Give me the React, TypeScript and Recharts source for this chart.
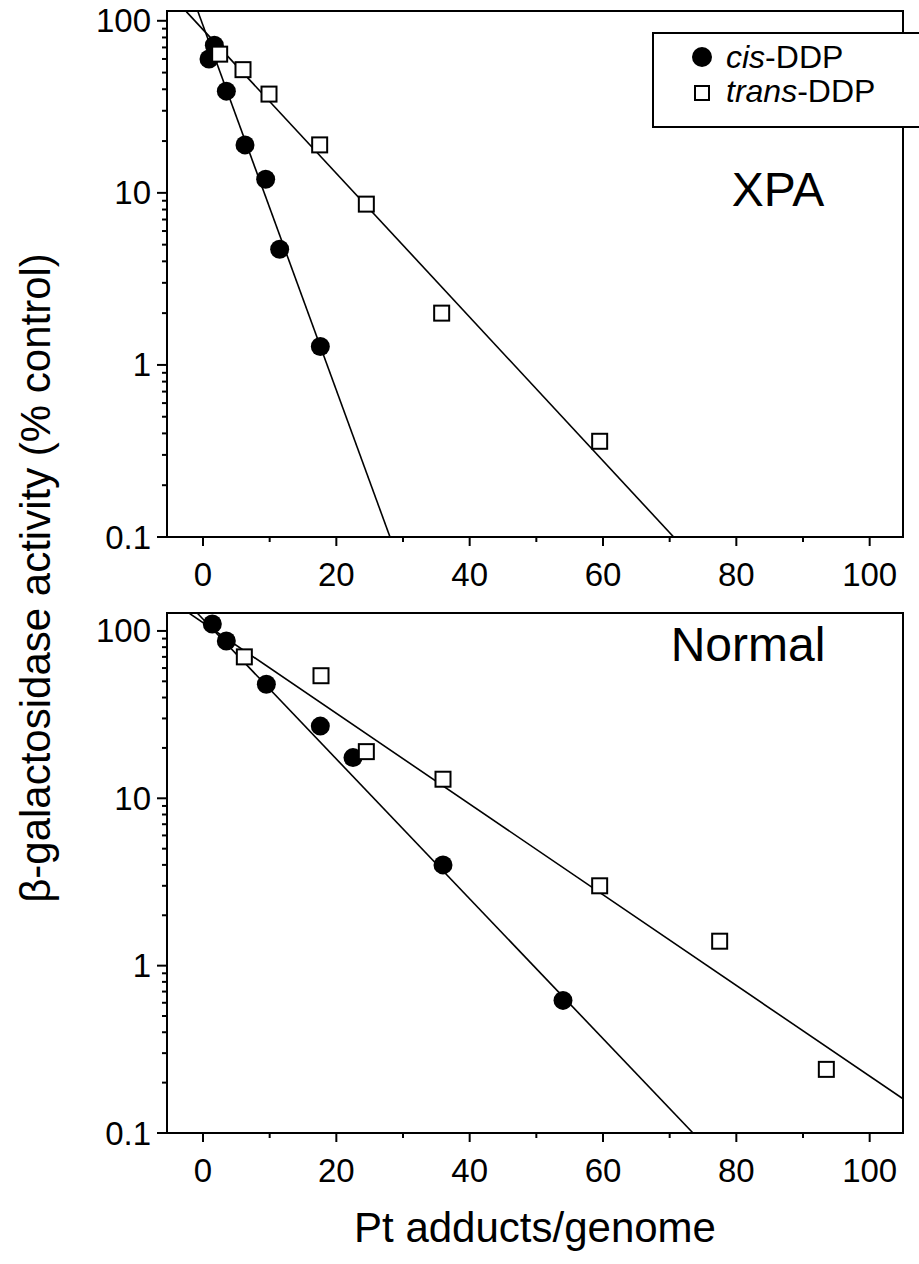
import React from "react";
import { ComposedChart, Scatter, Line, XAxis, YAxis, ReferenceArea } from "recharts";

const FONT = "'Liberation Sans', Arial, Helvetica, sans-serif";

// x axis: Pt adducts/genome
const xTicks = [0, 10, 20, 30, 40, 50, 60, 70, 80, 90, 100];
const xDomain = [-5.4, 105];

// log y axis ticks (% control)
const yTicks = [
  0.1, 0.2, 0.3, 0.4, 0.5, 0.6, 0.7, 0.8, 0.9,
  1, 2, 3, 4, 5, 6, 7, 8, 9,
  10, 20, 30, 40, 50, 60, 70, 80, 90, 100,
];

// XPA panel
const xpaCis = [
  { x: 0.9, y: 60 },
  { x: 1.7, y: 72 },
  { x: 3.5, y: 39 },
  { x: 6.3, y: 19 },
  { x: 9.4, y: 12 },
  { x: 11.5, y: 4.7 },
  { x: 17.6, y: 1.28 },
];
const xpaTrans = [
  { x: 2.5, y: 64 },
  { x: 6.0, y: 52 },
  { x: 9.9, y: 37.5 },
  { x: 17.5, y: 19 },
  { x: 24.5, y: 8.6 },
  { x: 35.8, y: 2.0 },
  { x: 59.5, y: 0.36 },
];
const xpaCisFit = [
  { x: -0.75, y: 113 },
  { x: 28.05, y: 0.1 },
];
const xpaTransFit = [
  { x: -2.5, y: 113 },
  { x: 70.6, y: 0.1 },
];

// Normal panel
const normCis = [
  { x: 1.4, y: 110 },
  { x: 3.5, y: 87 },
  { x: 9.5, y: 48 },
  { x: 17.6, y: 27 },
  { x: 22.5, y: 17.5 },
  { x: 36, y: 4.0 },
  { x: 54, y: 0.62 },
];
const normTrans = [
  { x: 6.2, y: 70 },
  { x: 17.7, y: 54 },
  { x: 24.5, y: 19 },
  { x: 36, y: 13 },
  { x: 59.5, y: 3.0 },
  { x: 77.5, y: 1.4 },
  { x: 93.5, y: 0.24 },
];
const normCisFit = [
  { x: -0.8, y: 127 },
  { x: 73.5, y: 0.1 },
];
const normTransFit = [
  { x: -2.0, y: 127 },
  { x: 105, y: 0.16 },
];

const isMajor = (v: number) => Math.abs(Math.log10(v) - Math.round(Math.log10(v))) < 1e-6;

const YTick = (props: any) => {
  const { x, y, payload } = props;
  const major = isMajor(payload.value);
  return (
    <g>
      <line x1={x} x2={x - (major ? 10 : 5)} y1={y} y2={y} stroke="#000" strokeWidth={2} />
      {major && (
        <text x={x - 16} y={y} textAnchor="end" dominantBaseline="central" fontSize={33} fontFamily={FONT} fill="#000">
          {payload.value}
        </text>
      )}
    </g>
  );
};

const XTick = (props: any) => {
  const { x, y, payload } = props;
  const major = payload.value % 20 === 0;
  return (
    <g>
      <line x1={x} x2={x} y1={y} y2={y + (major ? 9 : 5)} stroke="#000" strokeWidth={2} />
      {major && (
        <text x={x} y={y + 37} textAnchor="middle" dominantBaseline="central" fontSize={33} fontFamily={FONT} fill="#000">
          {payload.value}
        </text>
      )}
    </g>
  );
};

const Dot = (props: any) => <circle cx={props.cx} cy={props.cy} r={9.5} fill="#000" />;
const Box = (props: any) => (
  <rect x={props.cx - 7.5} y={props.cy - 7.5} width={15} height={15} fill="#fff" stroke="#000" strokeWidth={2} />
);

interface PanelProps {
  top: number;
  yMax: number;
  marginTop: number;
  marginBottom: number;
  cis: { x: number; y: number }[];
  trans: { x: number; y: number }[];
  cisFit: { x: number; y: number }[];
  transFit: { x: number; y: number }[];
}

const Panel = ({ top, yMax, marginTop, marginBottom, cis, trans, cisFit, transFit }: PanelProps) => (
  <div style={{ position: "absolute", left: 0, top }}>
    <ComposedChart width={919} height={600} margin={{ top: marginTop, right: 16, left: 107, bottom: marginBottom }}>
      <XAxis
        type="number"
        dataKey="x"
        domain={xDomain}
        ticks={xTicks}
        allowDataOverflow
        height={40}
        tickSize={0}
        tickMargin={0}
        tick={<XTick />}
        axisLine={{ stroke: "#000", strokeWidth: 2 }}
        interval={0}
      />
      <YAxis
        type="number"
        dataKey="y"
        scale="log"
        domain={[0.1, yMax]}
        ticks={yTicks}
        allowDataOverflow
        width={60}
        tickSize={0}
        tickMargin={0}
        tick={<YTick />}
        axisLine={{ stroke: "#000", strokeWidth: 2 }}
        interval={0}
      />
      <ReferenceArea x1={xDomain[0]} x2={xDomain[1]} y1={0.1} y2={yMax} fill="none" stroke="#000" strokeWidth={2} />
      <Line data={cisFit} dataKey="y" type="linear" stroke="#000" strokeWidth={1.6} dot={false} isAnimationActive={false} />
      <Line data={transFit} dataKey="y" type="linear" stroke="#000" strokeWidth={1.6} dot={false} isAnimationActive={false} />
      <Scatter data={cis} dataKey="y" shape={<Dot />} isAnimationActive={false} />
      <Scatter data={trans} dataKey="y" shape={<Box />} isAnimationActive={false} />
    </ComposedChart>
  </div>
);

const text = (extra: React.CSSProperties): React.CSSProperties => ({
  position: "absolute",
  fontFamily: FONT,
  color: "#000",
  whiteSpace: "nowrap",
  lineHeight: 1,
  ...extra,
});

export default function App() {
  return (
    <div style={{ position: "absolute", left: 0, top: 0, width: 919, height: 1264, background: "#fff", overflow: "hidden" }}>
      <Panel top={0} yMax={114} marginTop={11} marginBottom={23} cis={xpaCis} trans={xpaTrans} cisFit={xpaCisFit} transFit={xpaTransFit} />
      <Panel top={600} yMax={128} marginTop={13} marginBottom={27} cis={normCis} trans={normTrans} cisFit={normCisFit} transFit={normTransFit} />

      <div style={text({ left: 778, top: 190, fontSize: 48, transform: "translate(-50%, -50%)" })}>XPA</div>
      <div style={text({ left: 748, top: 645, fontSize: 48, transform: "translate(-50%, -50%)" })}>Normal</div>

      <div
        style={{
          position: "absolute",
          left: 652,
          top: 32,
          width: 265,
          height: 92,
          border: "2px solid #000",
          background: "#fff",
          fontFamily: FONT,
          fontSize: 32,
        }}
      >
        <div style={{ position: "absolute", left: 38, top: 13, width: 20, height: 20, borderRadius: "50%", background: "#000" }} />
        <div style={text({ left: 72, top: 7 })}>
          <i>cis</i>-DDP
        </div>
        <div style={{ position: "absolute", left: 40, top: 51, width: 12, height: 12, border: "2px solid #000" }} />
        <div style={text({ left: 72, top: 41 })}>
          <i>trans</i>-DDP
        </div>
      </div>

      <div style={text({ left: 535, top: 1228, fontSize: 42, transform: "translate(-50%, -50%)" })}>Pt adducts/genome</div>
      <div style={text({ left: 36, top: 578, fontSize: 42, transform: "translate(-50%, -50%) rotate(-90deg)" })}>
        β-galactosidase activity (% control)
      </div>
    </div>
  );
}
